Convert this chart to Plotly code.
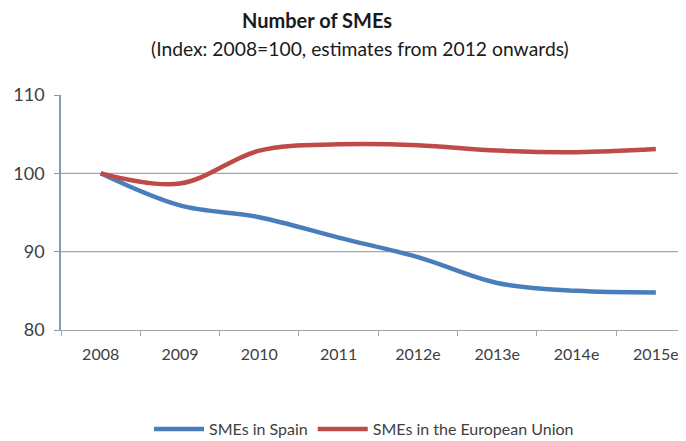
import plotly.graph_objects as go

years = ["2008", "2009", "2010", "2011", "2012e", "2013e", "2014e", "2015e"]
spain = [100.0, 95.9, 94.4, 91.8, 89.3, 86.0, 85.0, 84.8]
eu = [100.0, 98.7, 102.9, 103.7, 103.6, 102.9, 102.7, 103.1]

font_family = "Lato, 'Open Sans', sans-serif"
OFF = 8  # default page body margin

fig = go.Figure()
fig.add_trace(go.Scatter(
    x=years, y=spain, name="SMEs in Spain", mode="lines",
    line=dict(color="#4A7EBB", width=4.5, shape="spline", smoothing=1.0),
))
fig.add_trace(go.Scatter(
    x=years, y=eu, name="SMEs in the European Union", mode="lines",
    line=dict(color="#BE4B48", width=4.5, shape="spline", smoothing=1.0),
))

for g in [90, 100]:
    fig.add_hline(y=g, line=dict(color="#A6A6A6", width=1.3), layer="below")

fig.update_layout(
    width=686, height=441,
    margin=dict(l=61 - OFF, r=OFF, t=95 - OFF, b=441 - (330 - OFF), autoexpand=False),
    paper_bgcolor="white", plot_bgcolor="white",
    font=dict(family=font_family, color="#404040"),
    showlegend=True,
    legend=dict(orientation="h", xref="container", yref="container",
                x=(364 - OFF) / 686, xanchor="center", y=1 - (429 - OFF) / 441, yanchor="middle",
                font=dict(size=16, color="#404040"), tracegroupgap=0,
                itemwidth=50),
    annotations=[
        dict(text="<b>Number of SMEs</b>", xref="paper", yref="paper",
             x=(317 - 61) / 625, y=(330 - 20) / 235, xanchor="center", yanchor="middle",
             showarrow=False, font=dict(size=20, color="#1a1a1a", family=font_family)),
        dict(text="(Index: 2008=100, estimates from 2012 onwards)", xref="paper", yref="paper",
             x=(360 - 61) / 625, y=(330 - 48) / 235, xanchor="center", yanchor="middle",
             showarrow=False, font=dict(size=19.3, color="#1a1a1a", family=font_family)),
    ],
)

fig.update_xaxes(
    type="category", range=[-0.5, 7.38], automargin=False,
    showline=True, linecolor="#A6A6A6", linewidth=1.3,
    ticks="outside", tickson="boundaries", ticklen=5, tickcolor="#A6A6A6",
    ticklabelstandoff=10, ticklabeloverflow="allow",
    showgrid=False, tickfont=dict(size=16, color="#404040"),
)
fig.update_yaxes(
    range=[80, 110], tickvals=[80, 90, 100, 110], automargin=False,
    showline=True, linecolor="#7F9DB9", linewidth=1.5,
    ticks="outside", ticklen=5, tickcolor="#7F9DB9", ticklabelstandoff=6,
    showgrid=False, zeroline=False, tickfont=dict(size=18, color="#404040"),
)

fig.write_html("out.html")
